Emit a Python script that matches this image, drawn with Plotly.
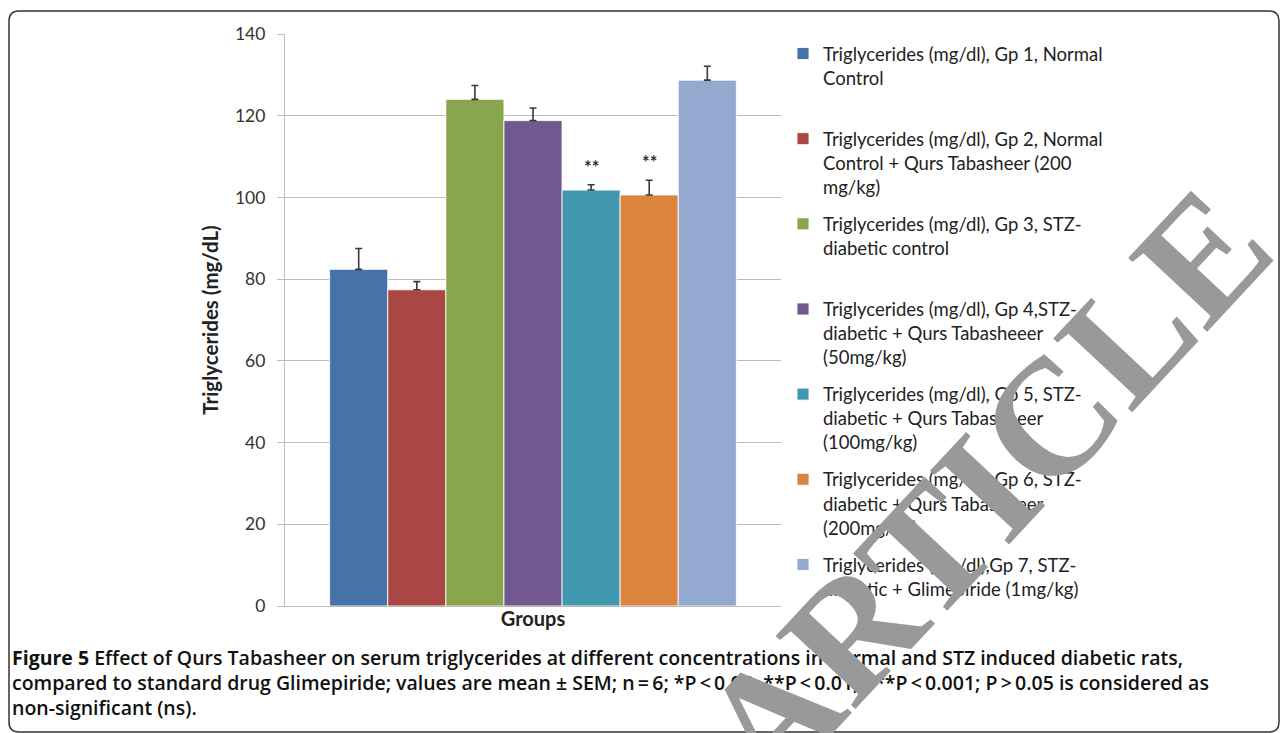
import plotly.graph_objects as go

# ---------------- data ----------------
categories = ["Groups"]
series_names = [
    "Triglycerides (mg/dl), Gp 1, Normal<br>Control",
    "Triglycerides (mg/dl), Gp 2, Normal<br>Control + Qurs Tabasheer (200<br>mg/kg)",
    "Triglycerides (mg/dl), Gp 3, STZ-<br>diabetic control",
    "Triglycerides (mg/dl), Gp 4,STZ-<br>diabetic + Qurs Tabasheeer<br>(50mg/kg)",
    "Triglycerides (mg/dl), Gp 5, STZ-<br>diabetic + Qurs Tabasheeer<br>(100mg/kg)",
    "Triglycerides (mg/dl), Gp 6, STZ-<br>diabetic + Qurs Tabasheeer<br>(200mg/kg)",
    "Triglycerides (mg/dl),Gp 7, STZ-<br>diabetic + Glimepiride (1mg/kg)",
]
means = [82.4, 77.4, 124.0, 118.8, 101.8, 100.6, 128.7]
sems = [5.1, 2.0, 3.4, 3.1, 1.3, 3.6, 3.4]
significance = ["", "", "", "", "**", "**", ""]
y_ticks = [0, 20, 40, 60, 80, 100, 120, 140]

colors = ["#4572A7", "#AA4643", "#89A54E", "#71588F", "#4198AF", "#DB843D", "#93A9CF"]

caption_lines = [
    "<b>Figure 5</b> Effect of Qurs Tabasheer on serum triglycerides at different concentrations in normal and STZ induced diabetic rats,",
    "compared to standard drug Glimepiride; values are mean \u00b1 SEM; n\u2009=\u20096; *P\u2009<\u20090.05; **P\u2009<\u20090.01; ***P\u2009<\u20090.001; P\u2009>\u20090.05 is considered as",
    "non-significant (ns).",
]

# ---------------- layout geometry ----------------
W, H = 1282, 733
L, R, T, B = 285, 1282 - 781, 34, 733 - 606
PW, PH = W - L - R, H - T - B
BARGAP = 0.18


def px2x(px):
    return (px - L) / PW


def py2y(py):
    return (H - B - py) / PH


fig = go.Figure()
n = len(means)
for i in range(n):
    name = series_names[i]
    if name.count("<br>") < 2:
        name = name + "<br>\u00a0"
    fig.add_trace(go.Bar(
        x=categories,
        y=[means[i]],
        name=name,
        legendgroup=f"g{i}",
        marker=dict(color=colors[i], line=dict(color="rgba(255,255,255,0.85)", width=1)),
        error_y=dict(type="data", symmetric=False, array=[sems[i]], arrayminus=[0],
                     color="#3a3a3a", thickness=1.6, width=3.5),
    ))

# significance marks above error bars
group_w = 1 - BARGAP
slot = group_w / n
annotations = []
for i in range(n):
    if significance[i]:
        annotations.append(dict(
            x=-group_w / 2 + (i + 0.5) * slot, y=means[i] + sems[i],
            xref="x", yref="y", text=f"<b>{significance[i]}</b>", showarrow=False,
            yanchor="bottom", yshift=5,
            font=dict(family="Lato", size=18, color="#333333"),
        ))

# caption
cap_y = [657, 682, 707]
for line, yy in zip(caption_lines, cap_y):
    annotations.append(dict(
        x=px2x(10), y=py2y(yy), xref="paper", yref="paper", text=line,
        showarrow=False, xanchor="left", yanchor="middle", align="left",
        font=dict(family="Open Sans", size=19.5, color="#111111", weight=600),
    ))

# watermark
annotations.append(dict(
    x=px2x(985), y=py2y(488), xref="paper", yref="paper", text="<b>ARTICLE</b>",
    showarrow=False, textangle=-47, xanchor="center", yanchor="middle",
    font=dict(family="Liberation Serif", size=165, color="#999999"),
))

# rounded frame
x0, y0, x1, y1, r = 9, 11, 1279, 732, 10
def P(px, py):
    return f"{px2x(px)},{py2y(py)}"
frame_path = (
    f"M {P(x0 + r, y0)} L {P(x1 - r, y0)} Q {P(x1, y0)} {P(x1, y0 + r)} "
    f"L {P(x1, y1 - r)} Q {P(x1, y1)} {P(x1 - r, y1)} "
    f"L {P(x0 + r, y1)} Q {P(x0, y1)} {P(x0, y1 - r)} "
    f"L {P(x0, y0 + r)} Q {P(x0, y0)} {P(x0 + r, y0)} Z"
)

fig.update_layout(
    width=W, height=H,
    margin=dict(l=L, r=R, t=T, b=B, pad=0),
    paper_bgcolor="white", plot_bgcolor="white",
    barmode="group", bargap=BARGAP, bargroupgap=0,
    showlegend=True,
    legend=dict(
        x=px2x(783), y=py2y(35), xanchor="left", yanchor="top",
        font=dict(family="Lato", size=18.5, color="#222222"),
        valign="top", tracegroupgap=10, traceorder="grouped",
        bgcolor="rgba(0,0,0,0)", maxheight=720,
    ),
    xaxis=dict(
        showticklabels=False, ticks="", showgrid=False,
        showline=True, linecolor="#BDBDBD", linewidth=1.2,
        title=dict(text="<b>Groups</b>", standoff=5,
                   font=dict(family="Lato", size=20, color="#222222")),
        range=[-0.5, 0.5], fixedrange=True,
    ),
    yaxis=dict(
        range=[0, 140], tickvals=y_ticks, ticks="outside", ticklen=7,
        tickcolor="#BDBDBD", tickwidth=1.2, ticklabelstandoff=8,
        showline=True, linecolor="#BDBDBD", linewidth=1.2,
        showgrid=True, gridcolor="#BDBDBD", gridwidth=1.2,
        zeroline=False,
        tickfont=dict(family="Lato", size=17.5, color="#333333"),
        title=dict(text="<b>Triglycerides (mg/dL)</b>", standoff=10,
                   font=dict(family="Lato", size=20.5, color="#222222")),
    ),
    annotations=annotations,
    shapes=[dict(type="path", path=frame_path, xref="paper", yref="paper",
                 line=dict(color="#333333", width=1.5), layer="above")],
)

fig.write_html("out.html", config={"displayModeBar": False},
               post_script="document.body.style.margin='0';document.body.style.overflow='hidden';")
